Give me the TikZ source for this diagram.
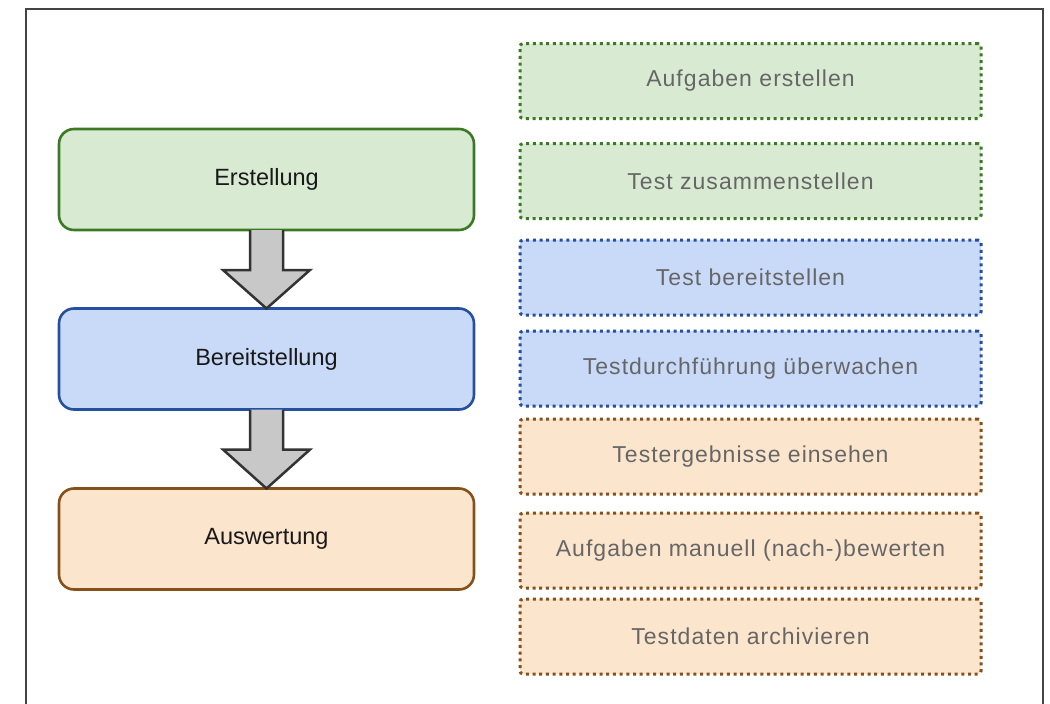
\documentclass[tikz,border=0pt]{standalone}
\usepackage{fontspec}
\setmainfont{Liberation Sans}
\newfontfamily\taskfont[LetterSpace=4.5]{Liberation Sans}
\usetikzlibrary{calc}
\definecolor{gfill}{HTML}{D9EAD3}
\definecolor{gline}{HTML}{3B7A22}
\definecolor{bfill}{HTML}{C9DAF8}
\definecolor{bline}{HTML}{24509E}
\definecolor{ofill}{HTML}{FCE5CD}
\definecolor{oline}{HTML}{86501A}
\definecolor{frameline}{HTML}{444444}
\definecolor{arrfill}{HTML}{C8C8C8}
\definecolor{arrline}{HTML}{333333}
\definecolor{subtext}{HTML}{666666}
\tikzset{
  phase/.style={draw, rounded corners=15pt, line width=2.6pt, minimum width=415pt, minimum height=101pt, inner sep=0pt, outer sep=0pt, font=\fontsize{23.5}{28}\selectfont, text=black!90},
  task/.style={draw, rounded corners=3pt, line width=3pt, dash pattern=on 3pt off 3.7pt, minimum width=461pt, minimum height=75pt, inner sep=0pt, outer sep=0pt, font=\taskfont\fontsize{23}{28}\selectfont, text=subtext},
  blockarrow/.style={fill=arrfill, draw=arrline, line width=2.5pt, line join=miter}
}
\begin{document}
\begin{tikzpicture}[x=1pt,y=-1pt]
\useasboundingbox (0,0) rectangle (1050,704);
% outer frame (open at the bottom)
\draw[frameline, line width=2.6pt] (26,706) -- (26,9) -- (1043,9) -- (1043,706);
% phases
\node[phase, fill=gfill, draw=gline] (e) at (266.5,179.5) {Erstellung};
\node[phase, fill=bfill, draw=bline] (b) at (266.5,359) {Bereitstellung};
\node[phase, fill=ofill, draw=oline] (a) at (266.5,539) {Auswertung};
% block arrows
\draw[blockarrow] ($(e.south)+(-16.5,0)$) -- ($(e.south)+(-16.5,40)$) -- ($(e.south)+(-43.5,40)$) -- (b.north) -- ($(e.south)+(43.5,40)$) -- ($(e.south)+(16.5,40)$) -- ($(e.south)+(16.5,0)$);
\draw[blockarrow] ($(b.south)+(-16.5,0)$) -- ($(b.south)+(-16.5,40)$) -- ($(b.south)+(-43.5,40)$) -- (a.north) -- ($(b.south)+(43.5,40)$) -- ($(b.south)+(16.5,40)$) -- ($(b.south)+(16.5,0)$);
% tasks
\node[task, fill=gfill, draw=gline] (t1) at (750.5,81) {Aufgaben erstellen};
\node[task, fill=gfill, draw=gline] (t2) at (750.5,181) {Test zusammenstellen};
\node[task, fill=bfill, draw=bline] (t3) at (750.5,277.5) {Test bereitstellen};
\node[task, fill=bfill, draw=bline] (t4) at (750.5,368.5) {Testdurchführung überwachen};
\node[task, fill=ofill, draw=oline] (t5) at (750.5,456.5) {Testergebnisse einsehen};
\node[task, fill=ofill, draw=oline] (t6) at (750.5,550.5) {Aufgaben manuell (nach-)bewerten};
\node[task, fill=ofill, draw=oline] (t7) at (750.5,636.5) {Testdaten archivieren};
\end{tikzpicture}
\end{document}
